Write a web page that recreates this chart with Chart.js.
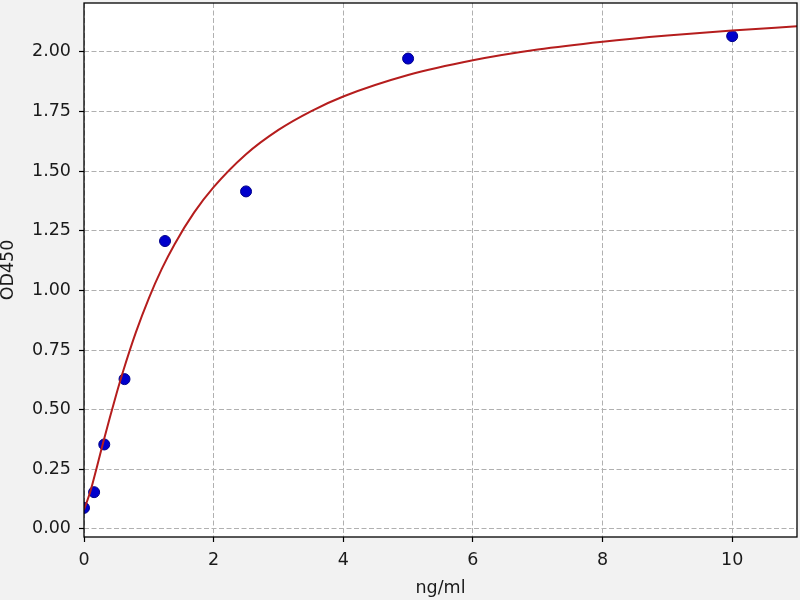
<!DOCTYPE html>
<html>
<head>
<meta charset="utf-8">
<script src="https://cdn.jsdelivr.net/npm/chart.js@4/dist/chart.umd.min.js"></script>
<style>
  html, body { margin: 0; padding: 0; background: #f2f2f2; }
  #wrap { width: 800px; height: 600px; }
</style>
</head>
<body>
<div id="wrap"><canvas id="myChart" width="800" height="600"></canvas></div>
<script>
// standards (measured points)
const stdConc = [0, 0.156, 0.3125, 0.625, 1.25, 2.5, 5, 10]
const stdOD = [0.088, 0.154, 0.354, 0.628, 1.207, 1.415, 1.972, 2.066]

// fitted curve
const fitConc = [0, 0.1, 0.2, 0.3, 0.4, 0.5, 0.6, 0.8, 1.0, 1.2, 1.4, 1.7, 2.0, 2.5, 3, 3.5, 4, 5, 6, 7, 8, 9, 10, 11]
const fitOD = [0.08, 0.159, 0.261, 0.366, 0.468, 0.566, 0.658, 0.824, 0.967, 1.09, 1.195, 1.327, 1.433, 1.571, 1.673, 1.751, 1.813, 1.903, 1.965, 2.01, 2.043, 2.069, 2.09, 2.107]

const xTicks = [0, 2, 4, 6, 8, 10]
const yTicks = [0, 0.25, 0.5, 0.75, 1.0, 1.25, 1.5, 1.75, 2.0]

const curveColor = '#b51d1d'
const pointColor = '#0000cc'
const gridColor = '#b0b0b0'
const textColor = '#1a1a1a'
const fontFamily = '"DejaVu Sans", sans-serif'

function toXY(xs, ys) {
	var out = []
	for (var i = 0; i < xs.length; i++) {
		out.push({ x: xs[i], y: ys[i] })
	}
	return out
}

// grey figure, white axes, black frame
const framePlugin = {
	id: 'frame',
	beforeDraw(chart) {
		const c = chart.ctx
		const a = chart.chartArea
		c.save()
		c.fillStyle = '#f2f2f2'
		c.fillRect(0, 0, chart.width, chart.height)
		c.fillStyle = '#ffffff'
		c.fillRect(a.left, a.top, a.right - a.left, a.bottom - a.top)
		c.restore()
	},
	afterDraw(chart) {
		const c = chart.ctx
		const a = chart.chartArea
		c.save()
		c.strokeStyle = '#000000'
		c.lineWidth = 1.3
		c.strokeRect(a.left, a.top, a.right - a.left, a.bottom - a.top)
		c.restore()
	}
}

// fixed axis boxes so the plot area sits where it does in the picture
function fixX(scale) {
	scale.height = 63
	scale.paddingLeft = 0
	scale.paddingRight = 0
}
function fixY(scale) {
	scale.width = 84
	scale.paddingTop = 0
	scale.paddingBottom = 0
}

var ctx = document.getElementById('myChart')
var chart = new Chart(ctx, {
	type: 'scatter',
	data: {
		datasets: [{
			type: 'line',
			label: 'fit',
			data: toXY(fitConc, fitOD),
			borderColor: curveColor,
			borderWidth: 2,
			pointRadius: 0,
			fill: false,
			cubicInterpolationMode: 'monotone'
		}, {
			label: 'standards',
			data: toXY(stdConc, stdOD),
			backgroundColor: pointColor,
			borderColor: '#00008b',
			borderWidth: 1,
			pointRadius: 5.5
		}]
	},
	options: {
		responsive: false,
		animation: false,
		layout: { autoPadding: false, padding: { left: 0, top: 3, right: 3, bottom: 0 } },
		plugins: {
			legend: { display: false },
			tooltip: { enabled: false }
		},
		scales: {
			x: {
				type: 'linear',
				min: 0,
				max: 11,
				afterFit: fixX,
				afterBuildTicks: function (scale) {
					scale.ticks = xTicks.map(function (v) { return { value: v } })
				},
				grid: {
					color: gridColor,
					lineWidth: 1,
					drawTicks: true,
					tickLength: 5,
					tickColor: '#000000',
					tickWidth: 1.2
				},
				border: { display: false, dash: [5, 2.5] },
				ticks: {
					color: textColor,
					font: { family: fontFamily, size: 17.5 },
					padding: 8,
					maxRotation: 0,
					callback: function (v) { return String(v) }
				},
				title: {
					display: true,
					text: 'ng/ml',
					color: textColor,
					font: { family: fontFamily, size: 17.5, lineHeight: 1 },
					padding: { top: 0, bottom: 3 }
				}
			},
			y: {
				type: 'linear',
				min: -0.034,
				max: 2.205,
				afterFit: fixY,
				afterBuildTicks: function (scale) {
					scale.ticks = yTicks.map(function (v) { return { value: v } })
				},
				grid: {
					color: gridColor,
					lineWidth: 1,
					drawTicks: true,
					tickLength: 5,
					tickColor: '#000000',
					tickWidth: 1.2
				},
				border: { display: false, dash: [5, 2.5] },
				ticks: {
					color: textColor,
					font: { family: fontFamily, size: 17.5 },
					padding: 8,
					callback: function (v) { return Number(v).toFixed(2) }
				},
				title: {
					display: true,
					text: 'OD450',
					color: textColor,
					font: { family: fontFamily, size: 17.5, lineHeight: 1 },
					padding: { top: 0, bottom: 0 }
				}
			}
		}
	},
	plugins: [framePlugin]
})
</script>
</body>
</html>
